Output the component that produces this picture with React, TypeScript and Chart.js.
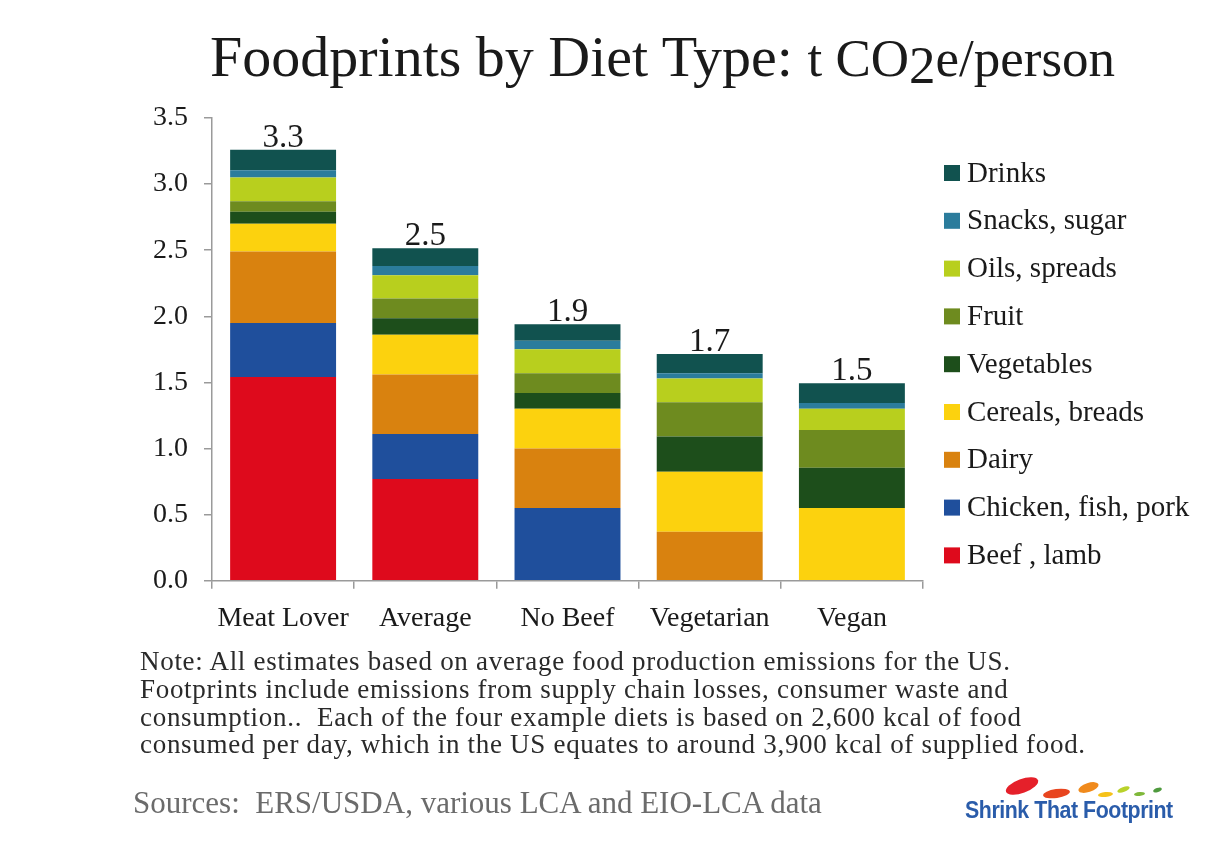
import React, { useEffect, useRef } from "react";
import { Chart, registerables } from "chart.js";

Chart.register(...registerables);

// ---- Data (t CO2e / person) ----
const categories = ["Meat Lover", "Average", "No Beef", "Vegetarian", "Vegan"];
const beefLamb = [1.54, 0.77, 0, 0, 0];
const chickenFishPork = [0.41, 0.34, 0.55, 0, 0];
const dairy = [0.54, 0.45, 0.45, 0.37, 0];
const cerealsBreads = [0.21, 0.3, 0.3, 0.455, 0.55];
const vegetables = [0.09, 0.125, 0.12, 0.265, 0.305];
const fruit = [0.08, 0.15, 0.15, 0.26, 0.285];
const oilsSpreads = [0.18, 0.175, 0.18, 0.18, 0.16];
const snacksSugar = [0.055, 0.07, 0.065, 0.04, 0.045];
const drinks = [0.155, 0.135, 0.125, 0.145, 0.148];

const seriesNames = [
  "Beef , lamb",
  "Chicken, fish, pork",
  "Dairy",
  "Cereals, breads",
  "Vegetables",
  "Fruit",
  "Oils, spreads",
  "Snacks, sugar",
  "Drinks",
];
const seriesValues = [
  beefLamb,
  chickenFishPork,
  dairy,
  cerealsBreads,
  vegetables,
  fruit,
  oilsSpreads,
  snacksSugar,
  drinks,
];
const seriesColors = [
  "#de0a1c",
  "#1f4f9c",
  "#d9820f",
  "#fcd20e",
  "#1d4e1b",
  "#6e8b1f",
  "#b8cf1e",
  "#2b7c9c",
  "#11524f",
];

const yTicks = [0, 0.5, 1, 1.5, 2, 2.5, 3, 3.5];

const noteLines = [
  "Note: All estimates based on average food production emissions for the US.",
  "Footprints include emissions from supply chain losses, consumer waste and",
  "consumption..  Each of the four example diets is based on 2,600 kcal of food",
  "consumed per day, which in the US equates to around 3,900 kcal of supplied food.",
];
const sourcesText = "Sources:  ERS/USDA, various LCA and EIO-LCA data";

const SERIF = "'Liberation Serif', 'DejaVu Serif', serif";
const AXIS_COLOR = "#9a9a9a";
const TEXT_COLOR = "#1a1a1a";

const totalsPlugin = {
  id: "totals",
  afterDatasetsDraw(chart: any) {
    const ctx = chart.ctx;
    const xs = chart.scales.x;
    const ys = chart.scales.y;
    ctx.save();
    ctx.font = `33px ${SERIF}`;
    ctx.fillStyle = TEXT_COLOR;
    ctx.textAlign = "center";
    ctx.textBaseline = "alphabetic";
    categories.forEach((_, i) => {
      let total = 0;
      chart.data.datasets.forEach((ds: any) => {
        total += ds.data[i];
      });
      const rounded = Math.round(total * 10) / 10;
      const x = xs.getPixelForValue(i);
      const y = ys.getPixelForValue(total);
      ctx.fillText(rounded.toFixed(1), x, y - 3);
    });
    ctx.restore();
  },
};

const legendPlugin = {
  id: "sideLegend",
  afterDraw(chart: any) {
    const ctx = chart.ctx;
    const datasets = chart.data.datasets;
    const x0 = 944;
    const y0 = 173;
    const step = 47.8;
    const box = 16;
    ctx.save();
    ctx.font = `29px ${SERIF}`;
    ctx.textBaseline = "middle";
    ctx.textAlign = "left";
    for (let k = 0; k < datasets.length; k++) {
      const ds = datasets[datasets.length - 1 - k];
      const cy = y0 + k * step;
      ctx.fillStyle = ds.backgroundColor;
      ctx.fillRect(x0, cy - box / 2, box, box);
      ctx.fillStyle = TEXT_COLOR;
      ctx.fillText(ds.label, x0 + 23, cy + 1);
    }
    ctx.restore();
  },
};

function ChartCanvas() {
  const ref = useRef<HTMLCanvasElement | null>(null);
  useEffect(() => {
    if (!ref.current) return;
    const chart = new Chart(ref.current, {
      type: "bar",
      data: {
        labels: categories,
        datasets: seriesNames.map((name, i) => ({
          label: name,
          data: seriesValues[i],
          backgroundColor: seriesColors[i],
          borderWidth: 0,
          barPercentage: 0.745,
          categoryPercentage: 1,
        })),
      },
      options: {
        animation: false,
        responsive: false,
        maintainAspectRatio: false,
        layout: { padding: { top: 118, right: 305, left: 0, bottom: 0 } },
        plugins: {
          legend: { display: false },
          tooltip: { enabled: false },
          title: { display: false },
        },
        scales: {
          x: {
            stacked: true,
            grid: {
              display: true,
              drawOnChartArea: false,
              offset: true,
              tickLength: 8,
              color: AXIS_COLOR,
              lineWidth: 1.5,
            },
            border: { color: AXIS_COLOR, width: 1.5 },
            ticks: {
              font: { family: SERIF, size: 28 },
              color: TEXT_COLOR,
              padding: 13,
              maxRotation: 0,
            },
            afterFit: (s: any) => {
              s.height = 850 - 580.7;
            },
          },
          y: {
            stacked: true,
            min: 0,
            max: 3.5,
            afterBuildTicks: (s: any) => {
              s.ticks = yTicks.map((v) => ({ value: v }));
            },
            ticks: {
              callback: (v: any) => Number(v).toFixed(1),
              font: { family: SERIF, size: 28 },
              color: TEXT_COLOR,
              padding: 16,
            },
            grid: {
              display: true,
              drawOnChartArea: false,
              tickLength: 8,
              color: AXIS_COLOR,
              lineWidth: 1.5,
            },
            border: { color: AXIS_COLOR, width: 1.5 },
            afterFit: (s: any) => {
              s.width = 212;
            },
          },
        },
      },
      plugins: [totalsPlugin, legendPlugin],
    } as any);
    return () => chart.destroy();
  }, []);
  return (
    <canvas
      ref={ref}
      width={1228}
      height={850}
      style={{ position: "absolute", left: 0, top: 0, width: 1228, height: 850 }}
    />
  );
}

const feet = [
  { x: 1005, y: 779, w: 34, h: 14, r: -20, c: "#e5202a" },
  { x: 1043, y: 789, w: 27, h: 9, r: -8, c: "#e8451f" },
  { x: 1078, y: 783, w: 21, h: 9, r: -18, c: "#f08a1c" },
  { x: 1098, y: 792, w: 15, h: 5, r: -5, c: "#f5c21a" },
  { x: 1117, y: 787, w: 13, h: 5, r: -20, c: "#b9d22a" },
  { x: 1134, y: 792, w: 11, h: 4, r: -5, c: "#7fb83a" },
  { x: 1153, y: 788, w: 9, h: 4, r: -20, c: "#4f9a3e" },
];

export default function App() {
  return (
    <div
      style={{
        position: "fixed",
        left: 0,
        top: 0,
        width: 1228,
        height: 850,
        background: "#ffffff",
        overflow: "hidden",
        fontFamily: SERIF,
      }}
    >
      <ChartCanvas />
      <div
        style={{
          position: "absolute",
          left: 210,
          top: 28,
          whiteSpace: "nowrap",
          color: TEXT_COLOR,
          lineHeight: "58px",
        }}
      >
        <span style={{ fontSize: 58 }}>Foodprints by Diet Type: </span>
        <span style={{ fontSize: 53 }}>
          t CO<span style={{ position: "relative", top: 7 }}>2</span>e/person
        </span>
      </div>
      {noteLines.map((line, i) => (
        <div
          key={i}
          style={{
            position: "absolute",
            left: 140,
            top: 648.3 + i * 27.7,
            fontSize: 27,
            lineHeight: "27.7px",
            letterSpacing: 0.7,
            whiteSpace: "pre",
            color: "#2a2a2a",
          }}
        >
          {line}
        </div>
      ))}
      <div
        style={{
          position: "absolute",
          left: 133,
          top: 786.5,
          fontSize: 31,
          lineHeight: "31px",
          whiteSpace: "pre",
          color: "#6b6b6b",
        }}
      >
        {sourcesText}
      </div>
      {feet.map((f, i) => (
        <div
          key={i}
          style={{
            position: "absolute",
            left: f.x,
            top: f.y,
            width: f.w,
            height: f.h,
            borderRadius: "50%",
            background: f.c,
            transform: `rotate(${f.r}deg)`,
          }}
        />
      ))}
      <div
        style={{
          position: "absolute",
          left: 965,
          top: 798,
          fontFamily: "'Liberation Sans', Arial, sans-serif",
          fontWeight: "bold",
          fontSize: 24,
          lineHeight: "24px",
          color: "#2a5caa",
          whiteSpace: "nowrap",
          transform: "scaleX(0.89)",
          transformOrigin: "left top",
          letterSpacing: -0.5,
        }}
      >
        Shrink That Footprint
      </div>
    </div>
  );
}
